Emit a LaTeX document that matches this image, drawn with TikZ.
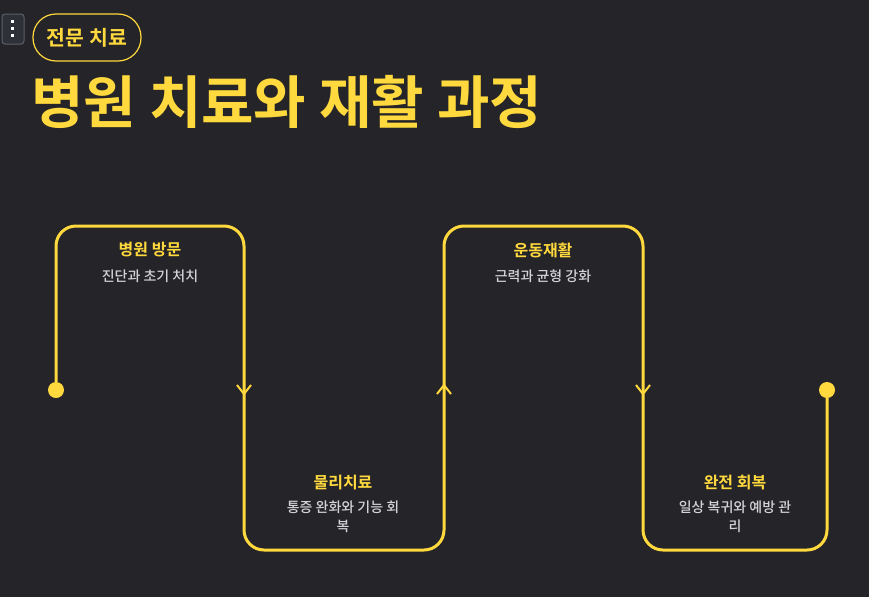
\documentclass[tikz,border=0pt]{standalone}
\usepackage{fontspec}
\setmainfont{Noto Sans CJK KR Medium}
\newfontfamily\krbold{Noto Sans CJK KR Bold}
\usetikzlibrary{calc}

\definecolor{bgDark}{RGB}{37,36,40}
\definecolor{sunYellow}{RGB}{255,217,61}
\definecolor{softGrey}{RGB}{212,212,214}
\definecolor{iconFill}{RGB}{46,48,56}
\definecolor{iconEdge}{RGB}{92,96,106}

\begin{document}
\begin{tikzpicture}[
        x=1pt, y=-1pt,
        pathLine/.style={sunYellow, line width=3pt, rounded corners=20pt},
        chevron/.style={sunYellow, line width=2pt},
        endDot/.style={circle, fill=sunYellow, inner sep=0pt, minimum size=16pt},
        stepTitle/.style={text=sunYellow, font=\krbold\fontsize{16}{19}\selectfont},
        stepNote/.style={text=softGrey, font=\fontsize{14}{19}\selectfont, align=center},
        badge/.style={draw=sunYellow, line width=1.2pt, rounded corners=23pt, text=sunYellow,
            font=\krbold\fontsize{20.5}{22}\selectfont, minimum width=108pt, minimum height=47pt, inner sep=0pt}
    ]
        % background and page size
        \fill[bgDark] (0,0) rectangle (869,597);
        \useasboundingbox (0,0) rectangle (869,597);

        % small menu icon at the corner
        \draw[iconEdge, fill=iconFill, line width=1pt, rounded corners=3pt] (2,14) rectangle (24,44);
        \foreach \dy in {21,28,35}
            \fill[white] (10.5,\dy-1.5) rectangle (13.5,\dy+1.5);

        % badge and heading
        \node[badge] (tag) at (87,37.5) {전문 치료};
        \node[anchor=west, text=sunYellow, font=\krbold\fontsize{57}{64}\selectfont, inner sep=0pt]
            (heading) at (31,102) {병원 치료와 재활 과정};

        % start and end of the route
        \node[endDot] (startDot) at (56,390) {};
        \node[endDot] (finishDot) at (827,390) {};

        % the winding route
        \draw[pathLine] (startDot) -- (56,226) -- (244,226) -- (244,550) -- (444,550)
            -- (444,226) -- (643,226) -- (643,550) -- (827,550) -- (finishDot);

        % direction marks on the route
        \coordinate (downA) at (244,394);
        \coordinate (upB) at (444,385);
        \coordinate (downC) at (643,394);
        \draw[chevron] ($(downA)+(-7,-9)$) -- (downA) -- ($(downA)+(7,-9)$);
        \draw[chevron] ($(upB)+(-7,9)$) -- (upB) -- ($(upB)+(7,9)$);
        \draw[chevron] ($(downC)+(-7,-9)$) -- (downC) -- ($(downC)+(7,-9)$);

        % step labels
        \node[stepTitle] (visitTitle) at (150,250) {병원 방문};
        \node[stepNote] (visitNote) at (150,276) {진단과 초기 처치};

        \node[stepTitle] (physioTitle) at (343,483) {물리치료};
        \node[stepNote] (physioNote) at (343,517) {통증 완화와 기능 회\\복};

        \node[stepTitle] (exerTitle) at (543,250) {운동재활};
        \node[stepNote] (exerNote) at (543,276) {근력과 균형 강화};

        \node[stepTitle] (recovTitle) at (735,483) {완전 회복};
        \node[stepNote] (recovNote) at (735,517) {일상 복귀와 예방 관\\리};

    \end{tikzpicture}
\end{document}
